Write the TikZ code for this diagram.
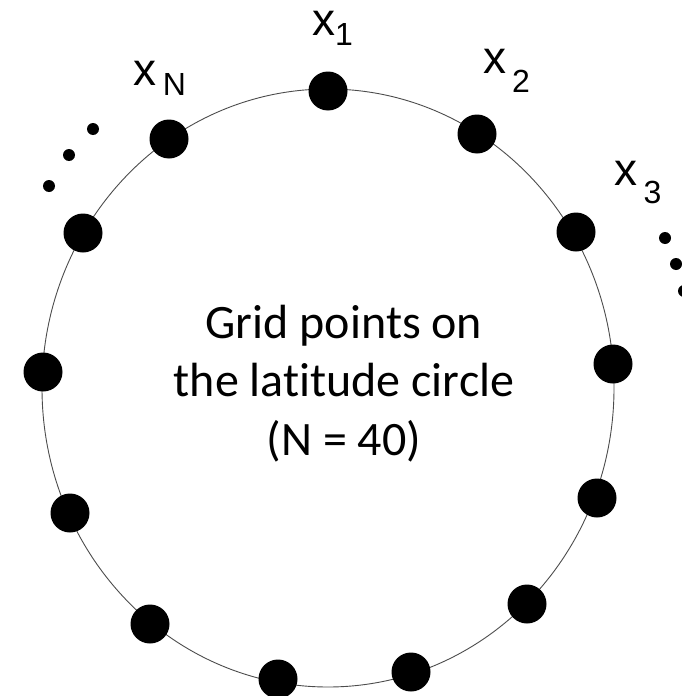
\documentclass[tikz,border=0pt]{standalone}
\usepackage{fontspec}
\newfontfamily\labfont{Liberation Sans}
\newfontfamily\bodyfont[Ligatures=NoCommon]{Carlito}
\begin{document}
\begin{tikzpicture}[x=1pt,y=-1pt,
  circleline/.style={draw=black!70, line width=0.9pt},
  dot/.style={circle, fill=black, inner sep=0pt, minimum size=39pt},
  smalldot/.style={circle, fill=black, inner sep=0pt, minimum size=12pt},
  lbl/.style={inner sep=0pt, anchor=base west, font=\labfont\fontsize{46}{46}\selectfont},
  body/.style={inner sep=0pt, align=center, font=\bodyfont\fontsize{48}{58.5}\selectfont}]
\useasboundingbox (0,0) rectangle (681,696);
\newcommand{\subl}[3]{x\kern#1pt\raisebox{-#2pt}{\fontsize{32}{32}\selectfont #3}}
% latitude circle
\coordinate (c) at (328,388);
\draw[circleline] (c) ellipse [x radius=286pt, y radius=299pt];
% grid points
\node[dot] (p1) at (328,91) {};
\node[dot] (p2) at (477,134) {};
\node[dot] (p3) at (576,232) {};
\node[dot] (p4) at (613,364) {};
\node[dot] (p5) at (597,498) {};
\node[dot] (p6) at (527,604) {};
\node[dot] (p7) at (411,672) {};
\node[dot] (p8) at (278,679) {};
\node[dot] (p9) at (150,624) {};
\node[dot] (p10) at (70,513) {};
\node[dot] (p11) at (43,372) {};
\node[dot] (p12) at (83,233) {};
\node[dot] (pN) at (169,139) {};
% ellipsis dots
\node[smalldot] (el1) at (93,129) {};
\node[smalldot] (el2) at (69,155) {};
\node[smalldot] (el3) at (49,186) {};
\node[smalldot] (er1) at (665,238) {};
\node[smalldot] (er2) at (676,264) {};
\node[smalldot] (er3) at (684,291) {};
% labels
\node[lbl] (l1) at (312,35) {\subl{0}{10}{1}};
\node[lbl] (l2) at (483,73) {\subl{6}{19}{2}};
\node[lbl] (l3) at (614,185) {\subl{6.5}{18}{3}};
\node[lbl] (lN) at (133,85) {\subl{6.6}{10}{N}};
% centre text
\node[body, anchor=base] (txt) at (344,455) {Grid points on\\the latitude circle\\(N = 40)};
\end{tikzpicture}
\end{document}
